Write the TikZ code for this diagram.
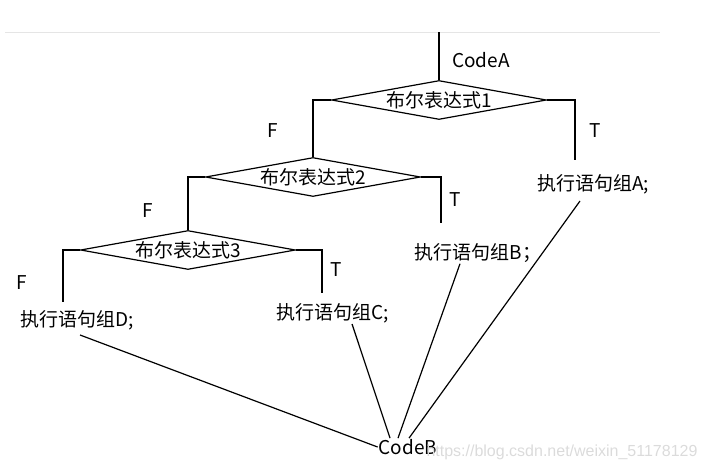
\documentclass[tikz,border=0pt]{standalone}
\usepackage{fontspec}
\setmainfont{Noto Sans CJK SC}
\newfontfamily\markfont{Liberation Sans}
\usetikzlibrary{shapes.geometric}

\begin{document}
\begin{tikzpicture}[
    x=1pt, y=-1pt,
    every node/.style={font=\fontsize{19}{22}\selectfont, inner sep=1pt},
    cond/.style={draw, diamond, aspect=5.5, inner sep=0pt, minimum width=215pt, minimum height=39pt, line width=1.2pt},
    link/.style={draw, line width=1.2pt}
  ]
    \useasboundingbox (0,0) rectangle (706,471);
    \draw[black!10, line width=0.6pt] (5,32) -- (660,32);

    \node[cond] (d1) at (439,100) {布尔表达式1};
    \node[cond] (d2) at (313,177) {布尔表达式2};
    \node[cond] (d3) at (188,250) {布尔表达式3};

    \node[anchor=west] (codeA) at (451,60) {CodeA};
    \node (eA) at (593,184) {执行语句组A;};
    \node (eB) at (478,253) {执行语句组B；};
    \node (eC) at (333,313) {执行语句组C;};
    \node (eD) at (77,320) {执行语句组D;};
    \node (codeB) at (408,447) {CodeB};

    \node (f1) at (273,131) {F};
    \node (f2) at (148,211) {F};
    \node (f3) at (22,283) {F};
    \node (t1) at (595,131) {T};
    \node (t2) at (455,200) {T};
    \node (t3) at (336,270) {T};

    \coordinate (top) at (439,32);
    \coordinate (endA) at (575,160);
    \coordinate (endB) at (441,223);
    \coordinate (endC) at (322,293);
    \coordinate (endD) at (63,302);

    \draw[link] (top) -- (d1.north);
    \draw[link] (d1.west) -| (d2.north);
    \draw[link] (d1.east) -| (endA);
    \draw[link] (d2.west) -| (d3.north);
    \draw[link] (d2.east) -| (endB);
    \draw[link] (d3.west) -| (endD);
    \draw[link] (d3.east) -| (endC);

    \draw[link] ([xshift=3pt,yshift=-4pt]eD.south) -- (codeB.west);
    \draw[link] (eC.-30) -- ([xshift=-18pt]codeB.north);
    \draw[link] ([xshift=-18pt]eB.south) -- ([xshift=-10pt]codeB.north);
    \draw[link] ([xshift=-13pt,yshift=-6pt]eA.south) -- ([xshift=1pt]codeB.north);

    \node[font=\markfont\fontsize{16}{18}\selectfont, text=black!14] (mark) at (562,452) {https://blog.csdn.net/weixin\_51178129};
\end{tikzpicture}
\end{document}
